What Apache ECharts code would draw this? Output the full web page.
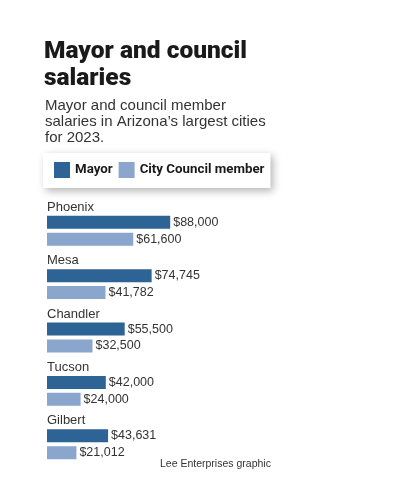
<!DOCTYPE html>
<html>
<head>
<meta charset="utf-8">
<script src="https://cdn.jsdelivr.net/npm/echarts@6/dist/echarts.min.js"></script>
<style>
html,body{margin:0;padding:0;background:#fff;}
#chart{width:401px;height:500px;}
</style>
</head>
<body>
<div id="chart"></div>
<script>
var cities = ['Phoenix', 'Mesa', 'Chandler', 'Tucson', 'Gilbert'];
var mayorSalary = [88000, 74745, 55500, 42000, 43631];
var councilSalary = [61600, 41782, 32500, 24000, 21012];
var seriesNames = ['Mayor', 'City Council member'];

var sans = '"Liberation Sans", Arial, sans-serif';
function money(v) { return '$' + v.toLocaleString('en-US'); }

var chart = echarts.init(document.getElementById('chart'));
chart.setOption({
  backgroundColor: '#fff',
  animation: false,
  title: [
    {
      text: 'Mayor and council\nsalaries',
      left: 39, top: 33, padding: 5,
      textStyle: { fontFamily: 'Roboto', fontWeight: 900, fontSize: 24.5, lineHeight: 27, color: '#1a1a1a' }
    },
    {
      text: 'Mayor and council member\nsalaries in Arizona\u2019s largest cities\nfor 2023.',
      left: 40, top: 93,
      textStyle: { fontFamily: sans, fontWeight: 'normal', fontSize: 15, lineHeight: 16, color: '#333' }
    },
    {
      text: 'Lee Enterprises graphic',
      left: 155, top: 454,
      textStyle: { fontFamily: sans, fontWeight: 'normal', fontSize: 10.5, color: '#333' }
    }
  ],
  legend: {
    left: 43, top: 153,
    orient: 'horizontal',
    data: seriesNames,
    itemWidth: 16, itemHeight: 16, itemGap: 6,
    padding: [9, 6, 10, 11],
    backgroundColor: '#fff',
    shadowBlur: 8, shadowColor: 'rgba(0,0,0,0.3)', shadowOffsetX: 3, shadowOffsetY: 3,
    icon: 'rect',
    textStyle: { fontFamily: 'Roboto', fontWeight: 'bold', fontSize: 13.3, color: '#1a1a1a' }
  },
  grid: { left: 47, right: 214, top: 204, bottom: 29, containLabel: false },
  xAxis: { type: 'value', min: 0, max: 100000, show: false },
  yAxis: {
    type: 'category', inverse: true, data: cities,
    axisLine: { show: false }, axisTick: { show: false },
    axisLabel: {
      inside: true, margin: 0, verticalAlign: 'bottom', padding: [0, 0, 17, 0],
      fontFamily: sans, fontSize: 13, color: '#333'
    }
  },
  series: [
    {
      name: seriesNames[0], type: 'bar', data: mayorSalary,
      barWidth: 13, barGap: '30%',
      itemStyle: { color: '#2e6395' },
      label: { show: true, position: 'right', distance: 3, formatter: function (p) { return money(p.value); },
        fontFamily: sans, fontSize: 12.5, color: '#333' }
    },
    {
      name: seriesNames[1], type: 'bar', data: councilSalary,
      barWidth: 13,
      itemStyle: { color: '#8aa6cd' },
      label: { show: true, position: 'right', distance: 3, formatter: function (p) { return money(p.value); },
        fontFamily: sans, fontSize: 12.5, color: '#333' }
    }
  ]
});
</script>
</body>
</html>
